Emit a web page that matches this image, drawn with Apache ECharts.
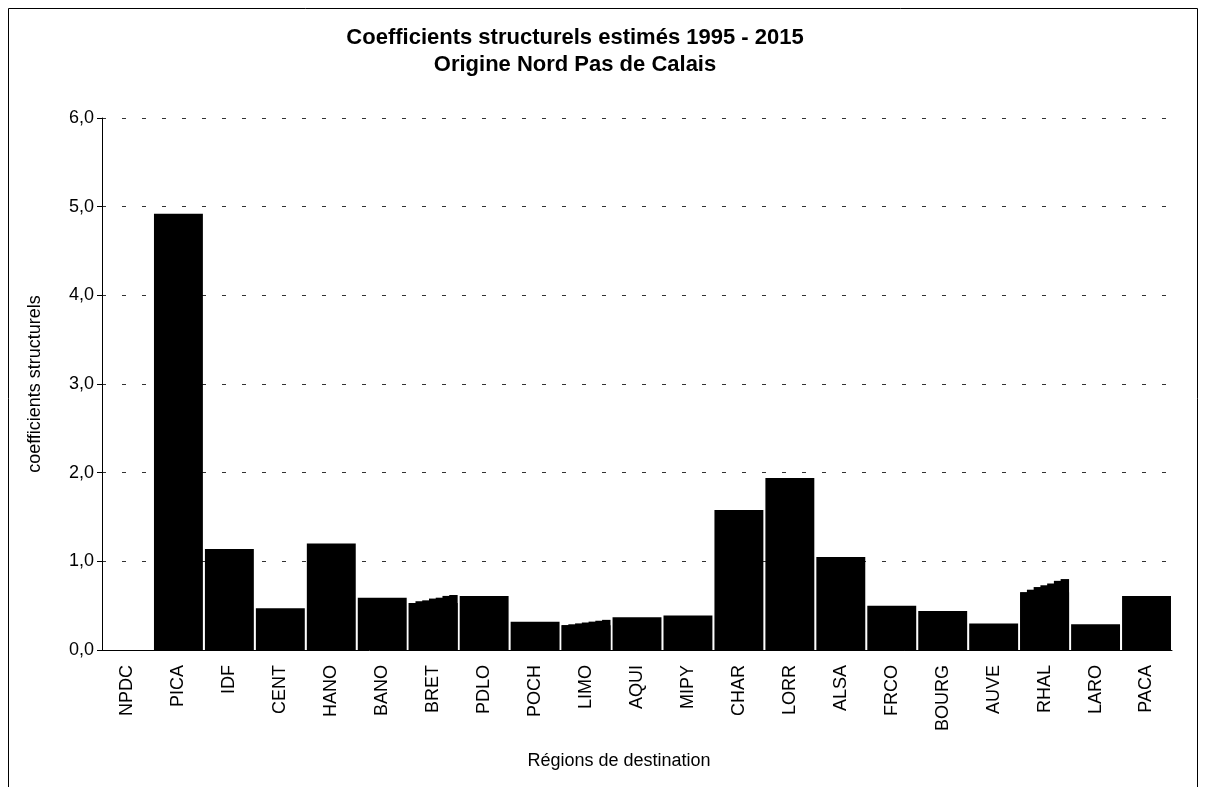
<!DOCTYPE html>
<html>
<head>
<meta charset="utf-8">
<script src="https://cdn.jsdelivr.net/npm/echarts@6/dist/echarts.min.js"></script>
<style>
html,body{margin:0;padding:0;background:#fff;}
#chart{width:1206px;height:787px;}
</style>
</head>
<body>
<div id="chart"></div>
<script>
const titleLines = ['Coefficients structurels estimés 1995 - 2015', 'Origine Nord Pas de Calais'];
const categories = ['NPDC','PICA','IDF','CENT','HANO','BANO','BRET','PDLO','POCH','LIMO','AQUI','MIPY','CHAR','LORR','ALSA','FRCO','BOURG','AUVE','RHAL','LARO','PACA'];
// flat bars; stepped categories hold the lowest step value
const values = [0, 4.92, 1.14, 0.47, 1.20, 0.59, 0.53, 0.61, 0.32, 0.28, 0.37, 0.39, 1.58, 1.94, 1.05, 0.50, 0.44, 0.30, 0.65, 0.29, 0.61];
// categories whose bar top is stepped (sub-period estimates, left to right)
const stepBRET = [0.53, 0.55, 0.56, 0.58, 0.59, 0.61, 0.62];
const stepLIMO = [0.28, 0.29, 0.30, 0.31, 0.32, 0.33, 0.34];
const stepRHAL = [0.65, 0.68, 0.71, 0.73, 0.75, 0.78, 0.80];
const yTicks = [0, 1, 2, 3, 4, 5, 6];

const steps = { BRET: stepBRET, LIMO: stepLIMO, RHAL: stepRHAL };
const nSub = stepBRET.length;
const series = [{
  type: 'bar',
  xAxisIndex: 0,
  barCategoryGap: '4%',
  itemStyle: { color: '#000' },
  silent: true,
  data: values
}];
for (let k = 0; k < nSub; k++) {
  series.push({
    type: 'bar',
    xAxisIndex: 1,
    barGap: '-20%',
    barCategoryGap: '4%',
    itemStyle: { color: '#000' },
    silent: true,
    data: categories.map(c => steps[c] ? steps[c][k] : null)
  });
}

const FONT = 'Liberation Sans, Arial, sans-serif';
const chart = echarts.init(document.getElementById('chart'));
chart.setOption({
  animation: false,
  backgroundColor: '#fff',
  title: {
    text: titleLines.join('\n'),
    left: 570,
    top: 19,
    textAlign: 'center',
    textStyle: { fontFamily: FONT, fontWeight: 'bold', fontSize: 22, lineHeight: 27, color: '#000' }
  },
  graphic: [{
    type: 'rect',
    shape: { x: 8.5, y: 8.5, width: 1189, height: 800 },
    style: { fill: 'none', stroke: '#000', lineWidth: 1 },
    silent: true
  }],
  grid: { left: 102, right: 34, top: 118, bottom: 137 },
  xAxis: [{
    type: 'category',
    data: categories,
    name: 'Régions de destination',
    nameLocation: 'middle',
    nameGap: 102,
    nameTextStyle: { fontFamily: FONT, fontSize: 18, color: '#000', padding: [0, 36, 0, 0] },
    axisLine: { lineStyle: { color: '#000', width: 1 } },
    axisTick: { length: 6, lineStyle: { color: '#000' } },
    axisLabel: { rotate: 90, fontFamily: FONT, fontSize: 18, color: '#000', margin: 15 },
    splitLine: { show: false }
  }, {
    type: 'category',
    data: categories,
    position: 'bottom',
    show: false
  }],
  yAxis: {
    type: 'value',
    min: 0, max: 6, interval: 1,
    name: 'coefficients structurels',
    nameLocation: 'middle',
    nameGap: 58,
    nameTextStyle: { fontFamily: FONT, fontSize: 18, color: '#000' },
    axisLine: { show: true, lineStyle: { color: '#000', width: 1 } },
    axisTick: { show: true, length: 5, lineStyle: { color: '#000' } },
    axisLabel: {
      fontFamily: FONT, fontSize: 18, color: '#000', margin: 8,
      formatter: v => yTicks.includes(v) ? v.toFixed(1).replace('.', ',') : ''
    },
    splitLine: { show: true, lineStyle: { color: '#333', type: [4, 16], width: 1 } }
  },
  series: series
});
</script>
</body>
</html>
